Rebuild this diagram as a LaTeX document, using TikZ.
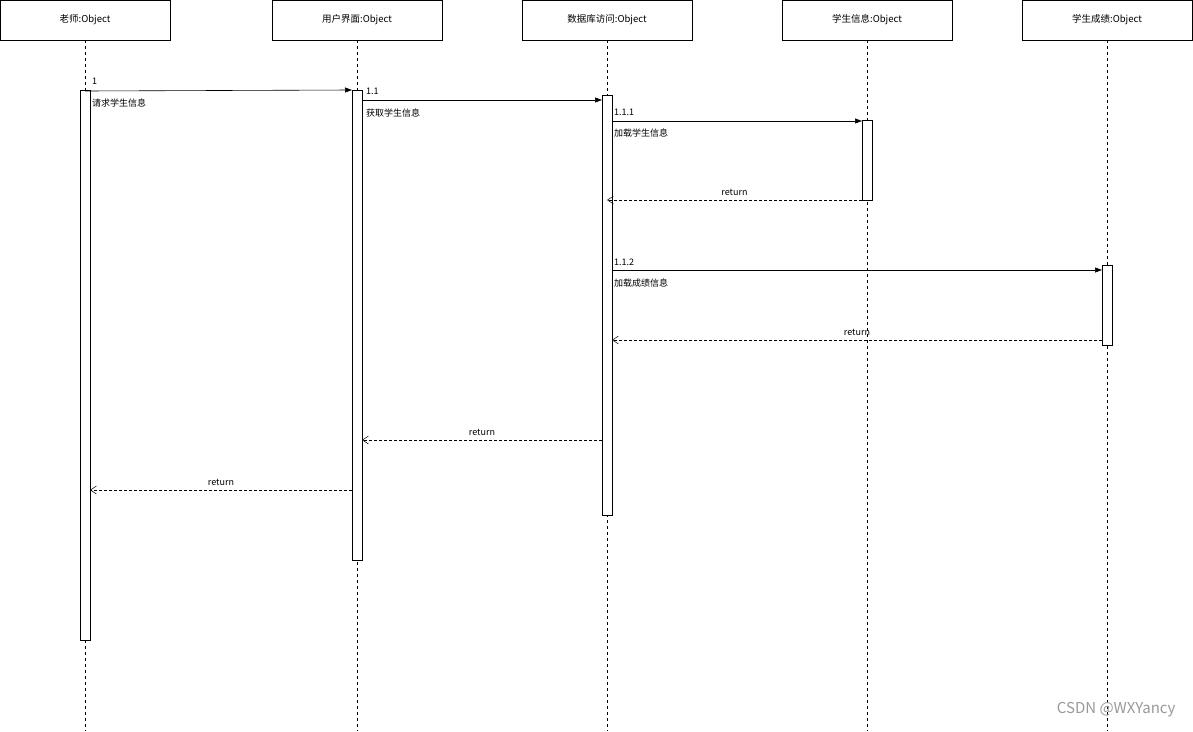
\documentclass[tikz,border=0pt]{standalone}
\usepackage{fontspec}
\setmainfont{Noto Sans CJK SC}
\usepackage{tikz}
\usetikzlibrary{arrows.meta,positioning}

\tikzset{
  obj/.style={draw,minimum width=170pt,minimum height=40pt,inner sep=0pt,font=\fontsize{9.5}{11}\selectfont},
  life/.style={dashed,dash pattern=on 3pt off 3pt,line width=0.5pt},
  act/.style={draw,fill=white,line width=0.6pt},
  call/.style={-{Triangle[length=7pt,width=5pt]},line width=0.6pt},
  back/.style={dashed,dash pattern=on 3pt off 2pt,-{Straight Barb[length=6pt,width=8pt]},line width=0.5pt},
  lbl/.style={font=\fontsize{9}{11}\selectfont,inner sep=0pt,anchor=west},
  ret/.style={midway,above=4pt,font=\fontsize{9}{11}\selectfont,inner sep=0pt}
}

\begin{document}
\begin{tikzpicture}[x=1pt,y=-1pt]
    \useasboundingbox (0,0) rectangle (1193,731);

    % Draw the objects and lifelines
    \foreach \name/\xc/\txt in {t/85/老师:Object, ui/357/用户界面:Object,
        db/607/数据库访问:Object, info/867/学生信息:Object, score/1107/学生成绩:Object} {
        \node [obj] (\name) at (\xc,20) {\txt};
        \draw [life] (\name.south) -- (\xc,731);
    }

    % Draw the activations
    \draw [act] (80,90) rectangle (90,640);
    \draw [act] (352,90) rectangle (362,560);
    \draw [act] (602,95) rectangle (612,515);
    \draw [act] (862,120) rectangle (872,200);
    \draw [act] (1102,265) rectangle (1112,345);

    \coordinate (m1s) at (85,91);   \coordinate (m1e) at (352,90);
    \coordinate (m2s) at (362,100); \coordinate (m2e) at (602,100);
    \coordinate (m3s) at (612,121); \coordinate (m3e) at (862,121);
    \coordinate (r3s) at (862,200); \coordinate (r3e) at (607,200);
    \coordinate (m4s) at (612,270); \coordinate (m4e) at (1102,270);
    \coordinate (r4s) at (1102,340); \coordinate (r4e) at (612,340);
    \coordinate (r2s) at (602,440); \coordinate (r2e) at (362,440);
    \coordinate (r1s) at (352,490); \coordinate (r1e) at (90,490);

    % Draw the calls
    \draw [call] (m1s) -- (m1e);
    \draw [call] (m2s) -- (m2e);
    \draw [call] (m3s) -- (m3e);
    \draw [call] (m4s) -- (m4e);
    \node [lbl] (l1) at (92,81) {1};
    \node [lbl] (n1) at (92,103) {请求学生信息};
    \node [lbl] (l2) at (366,91) {1.1};
    \node [lbl] (n2) at (366,113) {获取学生信息};
    \node [lbl] (l3) at (614,112) {1.1.1};
    \node [lbl] (n3) at (614,133) {加载学生信息};
    \node [lbl] (l4) at (614,262) {1.1.2};
    \node [lbl] (n4) at (614,283) {加载成绩信息};

    % Draw the returns
    \draw [back] (r3s) -- (r3e) node [ret] {return};
    \draw [back] (r4s) -- (r4e) node [ret] {return};
    \draw [back] (r2s) -- (r2e) node [ret] {return};
    \draw [back] (r1s) -- (r1e) node [ret] {return};

    \node [text=black!40,font=\fontsize{15}{17}\selectfont,anchor=east] (wm) at (1179,710) {CSDN @WXYancy};
\end{tikzpicture}
\end{document}
